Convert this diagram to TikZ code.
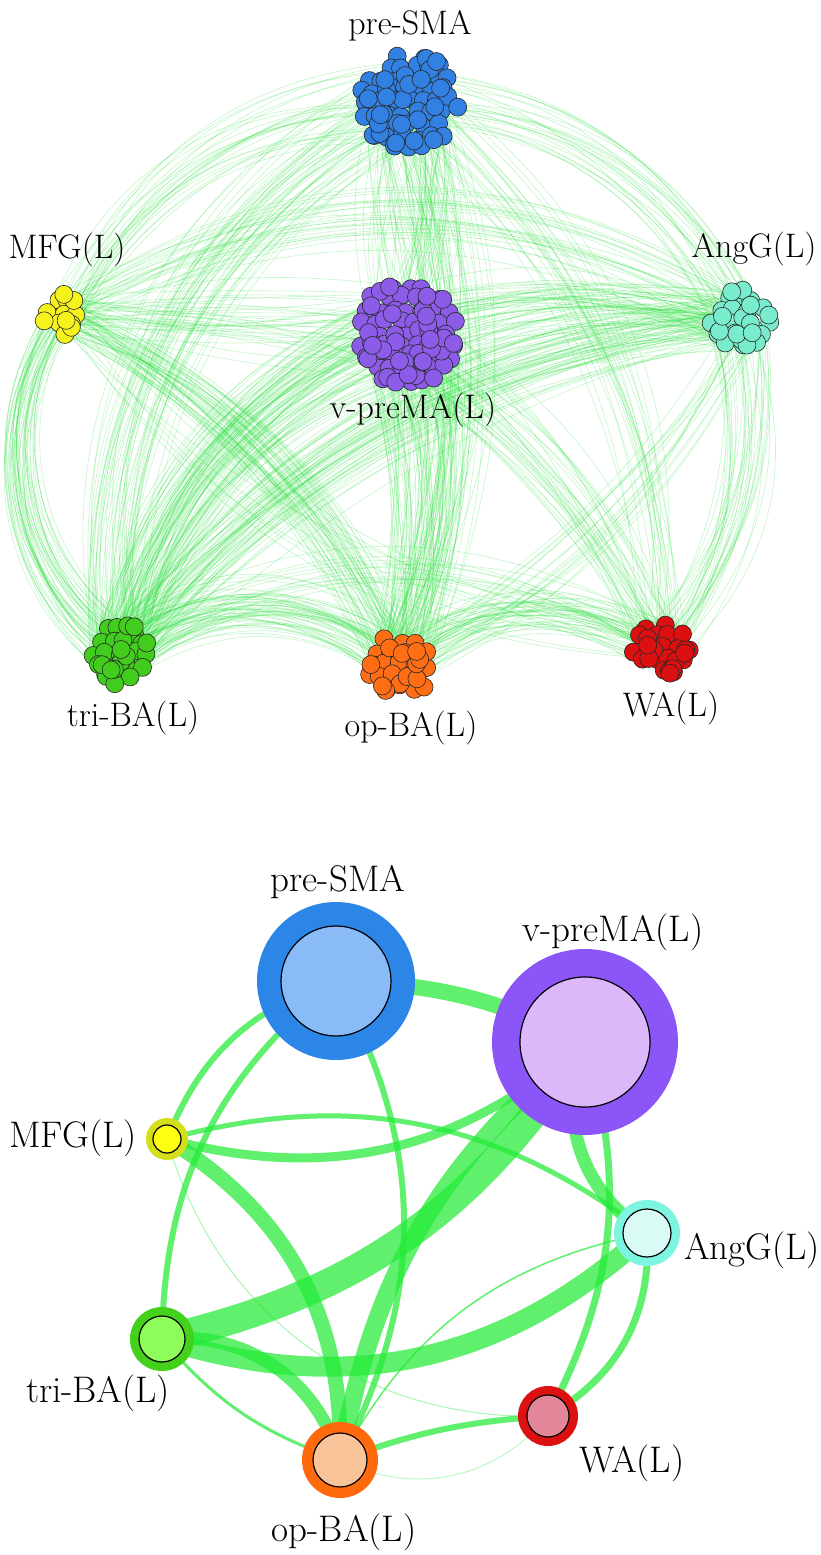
\documentclass[tikz,border=0pt]{standalone}
\usetikzlibrary{calc}
\definecolor{eg}{RGB}{35,235,55}
\definecolor{teg}{RGB}{40,225,60}
\definecolor{cBlue}{RGB}{50,128,226}
\definecolor{cPurp}{RGB}{140,92,232}
\definecolor{cYel}{RGB}{245,242,30}
\definecolor{cAqua}{RGB}{122,236,206}
\definecolor{cGreen}{RGB}{66,204,30}
\definecolor{cOrange}{RGB}{255,110,20}
\definecolor{cRed}{RGB}{220,16,16}
\definecolor{bPo}{RGB}{43,134,232}\definecolor{bPi}{RGB}{136,187,248}
\definecolor{bVo}{RGB}{139,85,247}\definecolor{bVi}{RGB}{220,184,251}
\definecolor{bMo}{RGB}{212,222,26}\definecolor{bMi}{RGB}{255,255,20}
\definecolor{bAo}{RGB}{126,245,224}\definecolor{bAi}{RGB}{218,251,245}
\definecolor{bTo}{RGB}{67,209,27}\definecolor{bTi}{RGB}{142,252,90}
\definecolor{bOo}{RGB}{255,106,14}\definecolor{bOi}{RGB}{249,196,154}
\definecolor{bWo}{RGB}{220,18,18}\definecolor{bWi}{RGB}{226,135,154}
\pgfdeclarelayer{bg}
\pgfdeclarelayer{edges}
\pgfsetlayers{bg,edges,main}
% #1 A, #2 RA, #3 B, #4 RB, #5 N, #6 bend, #7 jitter
\newcommand\bundle[7]{%
  \foreach \k in {1,...,#5}{%
    \pgfmathsetmacro\aa{rnd*360}%
    \pgfmathsetmacro\ra{sqrt(rnd)*#2}%
    \pgfmathsetmacro\ab{rnd*360}%
    \pgfmathsetmacro\rb{sqrt(rnd)*#4}%
    \pgfmathsetmacro\bb{#6+rand*#7}%
    \draw[topedge] ($(#1)+(\aa:\ra)$) to[bend left=\bb] ($(#3)+(\ab:\rb)$);
  }}
% #1 coord, #2 R, #3 extra N, #4 colour
\newcommand\cluster[4]{%
  \foreach \jj in {-6,...,6}{%
    \foreach \ii in {-6,...,6}{%
      \pgfmathsetmacro\cx{(\ii+0.5*mod(abs(\jj),2))*13.5+rand*3.5}%
      \pgfmathsetmacro\cy{\jj*11.7+rand*3.5}%
      \pgfmathtruncatemacro\ok{veclen(\cx,\cy)<=(#2-9)}%
      \ifnum\ok=1
        \filldraw[fill=#4, draw=black!85, line width=0.6pt] ($(#1)+(\cx,\cy)$) circle[radius=9];
      \fi
    }}%
  \foreach \k in {1,...,#3}{%
    \pgfmathsetmacro\aa{rnd*360}%
    \pgfmathsetmacro\rr{sqrt(rnd)*(#2-9)}%
    \filldraw[fill=#4, draw=black!85, line width=0.6pt] ($(#1)+(\aa:\rr)$) circle[radius=9];
  }}
\begin{document}
\begin{tikzpicture}[x=1pt,y=-1pt,
  topedge/.style={draw=teg, draw opacity=0.27, line width=0.6pt},
  bedge/.style={draw=eg, draw opacity=0.72},
  lab/.style={font=\fontsize{34}{34}\selectfont, inner sep=0pt},
  blab/.style={font=\fontsize{37}{37}\selectfont, inner sep=0pt},
  outer/.style={circle, inner sep=0pt, minimum size=#1},
  inner/.style={circle, inner sep=0pt, draw=black, line width=1.2pt, minimum size=#1}]
\useasboundingbox (0,0) rectangle (820,1555);
\begin{pgfonlayer}{bg}
\fill[white] (0,0) rectangle (820,1555);
\end{pgfonlayer}
\pgfmathsetseed{7}
% ---------- top: clustered network ----------
\coordinate (cP) at (409,102);
\coordinate (cV) at (408,333);
\coordinate (cM) at (63,314);
\coordinate (cA) at (740,321);
\coordinate (cT) at (120,654);
\coordinate (cO) at (400,665);
\coordinate (cW) at (662,649);
\bundle{cP}{46}{cM}{20}{26}{-30}{8}
\bundle{cP}{46}{cA}{32}{26}{30}{8}
\bundle{cP}{46}{cV}{50}{60}{0}{25}
\bundle{cP}{46}{cT}{30}{45}{-35}{8}
\bundle{cP}{46}{cO}{30}{38}{20}{8}
\bundle{cP}{46}{cW}{28}{20}{25}{8}
\bundle{cV}{50}{cT}{30}{95}{-25}{8}
\bundle{cV}{50}{cO}{30}{70}{15}{10}
\bundle{cM}{20}{cV}{50}{34}{0}{15}
\bundle{cV}{50}{cA}{32}{60}{15}{8}
\bundle{cV}{50}{cW}{28}{34}{15}{8}
\bundle{cA}{32}{cT}{30}{60}{-20}{8}
\bundle{cA}{32}{cW}{28}{34}{25}{8}
\bundle{cA}{32}{cO}{30}{16}{15}{8}
\bundle{cM}{20}{cA}{32}{24}{30}{6}
\bundle{cM}{20}{cO}{30}{46}{20}{8}
\bundle{cM}{20}{cT}{30}{48}{-45}{8}
\bundle{cM}{20}{cW}{28}{8}{-20}{8}
\bundle{cT}{30}{cO}{30}{55}{40}{8}
\bundle{cO}{30}{cW}{28}{40}{35}{8}
\bundle{cT}{30}{cW}{28}{12}{30}{6}
\cluster{cP}{58}{25}{cBlue}
\cluster{cV}{62}{30}{cPurp}
\cluster{cM}{30}{5}{cYel}
\cluster{cA}{42}{10}{cAqua}
\cluster{cT}{40}{12}{cGreen}
\cluster{cO}{42}{12}{cOrange}
\cluster{cW}{38}{10}{cRed}
\node[lab] (tlP) at (410,26) {pre-SMA};
\node[lab] (tlM) at (67,250) {MFG(L)};
\node[lab] (tlA) at (754,249) {AngG(L)};
\node[lab] (tlV) at (413,410) {v-preMA(L)};
\node[lab] (tlT) at (133,718) {tri-BA(L)};
\node[lab] (tlO) at (411,728) {op-BA(L)};
\node[lab] (tlW) at (671,708) {WA(L)};
% ---------- bottom: aggregated network ----------
\node[outer=158pt, fill=bPo] (P) at (336,981) {};
\node[inner=110pt, fill=bPi] (Pi) at (P) {};
\node[outer=186pt, fill=bVo] (V) at (585,1042) {};
\node[inner=130pt, fill=bVi] (Vi) at (V) {};
\node[outer=42pt, fill=bMo] (M) at (167,1139) {};
\node[inner=28pt, fill=bMi] (Mi) at (M) {};
\node[outer=66pt, fill=bAo] (A) at (647,1233) {};
\node[inner=48pt, fill=bAi] (Ai) at (A) {};
\node[outer=64pt, fill=bTo] (T) at (162,1339) {};
\node[inner=46pt, fill=bTi] (Ti) at (T) {};
\node[outer=76pt, fill=bOo] (O) at (340,1460) {};
\node[inner=54pt, fill=bOi] (Oi) at (O) {};
\node[outer=60pt, fill=bWo] (W) at (548,1416) {};
\node[inner=42pt, fill=bWi] (Wi) at (W) {};
\begin{pgfonlayer}{edges}
\draw[bedge, line width=16pt] (P.center) to[bend left=12] (V.center);
\draw[bedge, line width=6pt] (M.center) to[bend left=25] (P.center);
\draw[bedge, line width=6pt] (T.center) to[bend left=25] (P.center);
\draw[bedge, line width=6pt] (P.center) to[bend left=28] (O.center);
\draw[bedge, line width=28pt] (V.center) to[bend left=22] (T.center);
\draw[bedge, line width=18pt] (V.center) to[bend right=20] (O.center);
\draw[bedge, line width=9pt] (M.center) to[bend right=28] (V.center);
\draw[bedge, line width=5pt] (M.center) to[bend left=26] (A.center);
\draw[bedge, line width=13pt] (V.center) to[bend right=40] (A.center);
\draw[bedge, line width=7pt] (V.center) to[bend left=22] (W.center);
\draw[bedge, line width=20pt] (A.center) to[bend left=30] (T.center);
\draw[bedge, line width=7pt] (A.center) to[bend left=32] (W.center);
\draw[bedge, line width=1.5pt] (A.center) to[bend right=25] (O.center);
\draw[bedge, line width=15pt] (M.center) to[bend left=30] (O.center);
\draw[bedge, line width=1pt, draw opacity=0.4] (M.center) to[bend right=38] (W.center);
\draw[bedge, line width=13pt] (T.center) to[bend left=40] (O.center);
\draw[bedge, line width=3pt] (T.center) to[bend right=15] (O.center);
\draw[bedge, line width=6pt] (W.center) to[bend right=8] (O.center);
\draw[bedge, line width=1pt, draw opacity=0.3] (W.center) to[bend left=38] (O.center);
\end{pgfonlayer}
\node[blab] (lP) at (338,882) {pre-SMA};
\node[blab] (lV) at (613,932) {v-preMA(L)};
\node[blab] (lM) at (73,1138) {MFG(L)};
\node[blab] (lA) at (752,1250) {AngG(L)};
\node[blab] (lT) at (98,1393) {tri-BA(L)};
\node[blab] (lW) at (632,1463) {WA(L)};
\node[blab] (lO) at (344,1532) {op-BA(L)};
\end{tikzpicture}
\end{document}
